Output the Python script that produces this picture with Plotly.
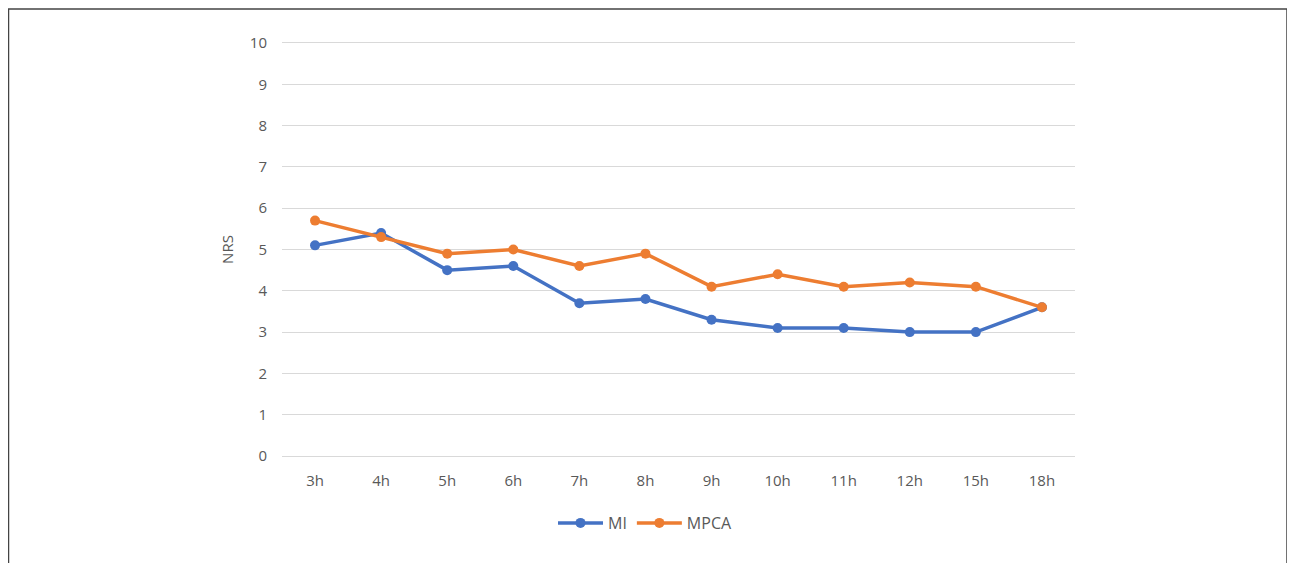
import plotly.graph_objects as go

categories = ["3h", "4h", "5h", "6h", "7h", "8h", "9h", "10h", "11h", "12h", "15h", "18h"]
mi_values = [5.1, 5.4, 4.5, 4.6, 3.7, 3.8, 3.3, 3.1, 3.1, 3.0, 3.0, 3.6]
mpca_values = [5.7, 5.3, 4.9, 5.0, 4.6, 4.9, 4.1, 4.4, 4.1, 4.2, 4.1, 3.6]

OFF = 8  # page offset of the figure in the browser
W, H = 1295, 563
# target pixel positions on screen
plot_left, plot_right, plot_top, plot_bottom = 282, 1075, 43, 456
L = plot_left - OFF
T = plot_top - OFF
R = W - (plot_right - OFF)
B = H - (plot_bottom - OFF)
pw, ph = W - L - R, H - T - B

def px_x(x):
    return (x - OFF - L) / pw

def px_y(y):
    return (H - B - (y - OFF)) / ph

fig = go.Figure()
fig.add_trace(go.Scatter(x=categories, y=mi_values, name="MI", mode="lines+markers",
                         line=dict(color="#4472C4", width=3.5),
                         marker=dict(size=10, color="#4472C4")))
fig.add_trace(go.Scatter(x=categories, y=mpca_values, name="MPCA", mode="lines+markers",
                         line=dict(color="#ED7D31", width=3.5),
                         marker=dict(size=10, color="#ED7D31")))

fig.update_layout(
    width=W, height=H,
    margin=dict(l=L, r=R, t=T, b=B),
    paper_bgcolor="white", plot_bgcolor="white",
    font=dict(family="Open Sans, Liberation Sans, sans-serif", color="#595959", size=15),
    showlegend=True,
    legend=dict(orientation="h", x=px_x(553), xanchor="left",
                y=px_y(523), yanchor="middle", font=dict(size=16, color="#595959"),
                itemwidth=45, traceorder="normal"),
    xaxis=dict(type="category", range=[-0.5, 11.5], showgrid=False, zeroline=False,
               showline=True, linecolor="#d9d9d9", linewidth=1, mirror=True,
               ticks="", tickfont=dict(size=15, color="#595959"),
               ticklabelstandoff=11),
    yaxis=dict(range=[0, 10], dtick=1, tick0=0, showgrid=True, gridcolor="#d9d9d9",
               gridwidth=1, zeroline=False, showline=False, ticks="",
               tickfont=dict(size=15, color="#595959"), ticklabelstandoff=14,
               title=dict(text="NRS", font=dict(size=15, color="#595959"), standoff=12)),
    shapes=[dict(type="rect", xref="paper", yref="paper",
                 x0=px_x(8.5), x1=px_x(1287), y0=px_y(580), y1=px_y(9),
                 line=dict(color="#444444", width=1.5), fillcolor="rgba(0,0,0,0)",
                 layer="below")],
)

fig.write_html("out.html")
